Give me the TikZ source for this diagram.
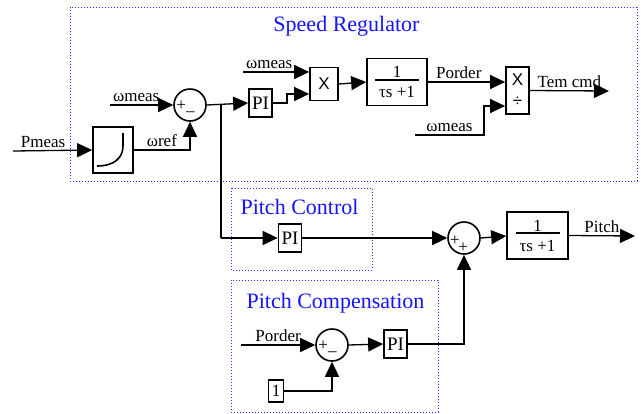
\documentclass[tikz,border=0pt]{standalone}
\usepackage{fontspec}
\setmainfont{Liberation Serif}
\newfontfamily\sansX{Liberation Sans}
\usetikzlibrary{arrows.meta,calc}
\definecolor{GroupBlue}{RGB}{40,40,255}
\definecolor{TitleBlue}{RGB}{20,20,255}
\newcommand{\lagfrac}{1\\[-15pt]\rule{44pt}{1.6pt}\\[-1pt]τs +1}

\begin{document}
\begin{tikzpicture}[x=1pt,y=-1pt,font=\fontsize{17}{18}\selectfont,blk/.style={draw,line width=1.7pt,inner sep=0pt,align=center},sumc/.style={circle,draw,line width=1.6pt,minimum size=32pt,inner sep=0pt,text height=0pt,text depth=0pt,font=\fontsize{17}{17}\selectfont},sig/.style={-{Triangle[length=15pt,width=14pt]},line width=1.3pt},wire/.style={line width=1.3pt},grp/.style={draw=GroupBlue,dotted,line width=1pt},ttl/.style={text=TitleBlue,font=\fontsize{22}{24}\selectfont},lbl/.style={inner sep=2.5pt},pibox/.style={blk,minimum width=23pt,minimum height=28pt,font=\fontsize{19}{20}\selectfont}]
\useasboundingbox (0,0) rectangle (643,413);
% dotted groups and titles
\draw[grp] (70,7) rectangle (637,181);
\draw[grp] (231,188) rectangle (372,270);
\draw[grp] (231,280) rectangle (438,412);
\node[ttl] (tSpeed) at (346.5,26){Speed Regulator};
\node[ttl] (tPitch) at (299.5,207){Pitch Control};
\node[ttl] (tComp) at (335.5,303){Pitch Compensation};
% blocks
\node[blk,minimum width=40pt,minimum height=46pt] (ramp) at (113,150){};
\draw[line width=1.6pt] (97,166) .. controls (114,166) and (123,158) .. (123,146) -- (123,133);
\node[sumc] (sum1) at (190,105){\hspace{-9pt}\raisebox{-5pt}{+}\raisebox{-5pt}{\_}};
\node[pibox] (pi1) at (260.5,103){PI};
\node[blk,minimum width=28pt,minimum height=33pt,font=\sansX\fontsize{17}{18}\selectfont] (mult) at (324,84){X};
\node[blk,minimum width=60pt,minimum height=47pt] (tf1) at (397,82){\lagfrac};
\node[blk,minimum width=23pt,minimum height=47pt,font=\sansX\fontsize{17}{18}\selectfont] (div) at (517.5,90.5){X\\[3pt]÷};
\node[pibox] (pi2) at (290,238){PI};
\node[sumc] (sum2) at (464,238){\hspace{-10pt}\raisebox{-7.5pt}{+}\hspace{-1.5pt}\raisebox{-14.5pt}{+}};
\node[blk,minimum width=61pt,minimum height=47pt] (tf2) at (537.5,235.5){\lagfrac};
\node[sumc] (sum3) at (332,345){\hspace{-9pt}\raisebox{-5pt}{+}\raisebox{-5pt}{\_}};
\node[blk,minimum width=15pt,minimum height=22pt] (one) at (276,391){1};
\node[pibox] (pi3) at (395.5,344){PI};
% free ends
\coordinate (pin) at (13,151);
\coordinate (wm1) at (110,105);
\coordinate (wm2) at (243,72);
\coordinate (wm3) at (415,135);
\coordinate (tem) at (609,91);
\coordinate (pout) at (635,236);
\coordinate (pord) at (241,345);
\coordinate (branch) at (221,105);
% speed regulator wiring
\draw[sig] (pin) -- (ramp.west) node[lbl,pos=0.38,above] (lPmeas){Pmeas};
\draw[sig] (ramp.east) -| node[lbl,pos=0.25,above] (lwref){ωref} (sum1.south);
\draw[sig] (wm1) -- (sum1.west) node[lbl,pos=0,anchor=south west] (lwm1){ωmeas};
\draw[sig] (sum1.east) -- (pi1.west);
\draw[sig] (wm2) -- (wm2 -| mult.west) node[lbl,pos=0,anchor=south west] (lwm2){ωmeas};
\draw[sig] (pi1.east) -- (287,103) -- (287,94) -- ($(mult.west)+(0,10)$);
\draw[sig] (mult.east) -- (tf1.west);
\draw[sig] (tf1.east) -- ($(div.west)+(0,-8.5)$) node[lbl,pos=0.4,above] (lPord1){Porder};
\draw[sig] (wm3) -- (484,135) node[lbl,midway,above] (lwm3){ωmeas} -- (484,106) -- ($(div.west)+(0,15.5)$);
\draw[sig] (div.east) -- (tem) node[lbl,midway,above] (lTem){Tem cmd};
% pitch control wiring
\draw[wire] (branch) -- (branch |- pi2.west);
\draw[sig] (branch |- pi2.west) -- (pi2.west);
\draw[sig] (pi2.east) -- (sum2.west);
\draw[sig] (sum2.east) -- ($(tf2.west)+(0,0.5)$);
\draw[sig] (tf2.east) -- (pout) node[lbl,midway,above] (lPitch){Pitch};
% pitch compensation wiring
\draw[sig] (pord) -- (sum3.west) node[lbl,midway,above] (lPord2){Porder};
\draw[sig] (one.east) -| (sum3.south);
\draw[sig] (sum3.east) -- (pi3.west);
\draw[sig] (pi3.east) -| (sum2.south);
\end{tikzpicture}
\end{document}
